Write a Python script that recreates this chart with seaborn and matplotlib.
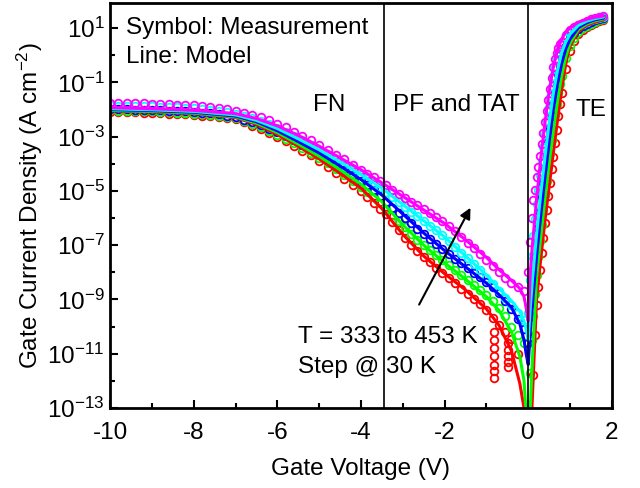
import numpy as np
import pandas as pd
import matplotlib
matplotlib.use("Agg")
import matplotlib.pyplot as plt
import matplotlib.ticker as mticker
import seaborn as sns

# temperatures and colours (333 K -> 453 K)
temps = ['333 K', '363 K', '393 K', '423 K', '453 K']
colors = ['#FF0000', '#00FF00', '#0000FF', '#00FFFF', '#FF00FF']

# measurement voltages: FN part, PF/TAT part, TE part
v_fn = [-10.0, -9.8, -9.6, -9.4, -9.2, -9.0, -8.8, -8.6, -8.4, -8.2, -8.0, -7.8, -7.6, -7.4, -7.2,
        -7.0, -6.8, -6.6, -6.4, -6.2, -6.0, -5.8, -5.6, -5.4, -5.2, -5.0, -4.8, -4.6, -4.4, -4.2, -4.0]
v_pf = [-3.85, -3.7, -3.55, -3.4, -3.25, -3.1, -2.95, -2.8, -2.65, -2.5, -2.35, -2.2, -2.05, -1.9,
        -1.75, -1.6, -1.45, -1.3, -1.15, -1.0, -0.85, -0.7, -0.55, -0.4, -0.25, -0.1]
v_te = [0.0, 0.04, 0.08, 0.12, 0.16, 0.2, 0.24, 0.28, 0.32, 0.36, 0.4, 0.44, 0.48, 0.52, 0.56, 0.6,
        0.64, 0.68, 0.72, 0.76, 0.8, 0.9, 1.0, 1.1, 1.2, 1.3, 1.4, 1.5, 1.6, 1.7, 1.8]

# measured log10(J), per temperature and region
fn_333 = [-2.08, -2.09, -2.1, -2.1, -2.11, -2.12, -2.13, -2.15, -2.17, -2.18, -2.2, -2.22, -2.24, -2.27, -2.31,
          -2.36, -2.47, -2.6, -2.73, -2.87, -3.0, -3.16, -3.33, -3.51, -3.69, -3.88, -4.1, -4.33, -4.56, -4.78, -5.0]
fn_363 = [-2.03, -2.04, -2.05, -2.05, -2.06, -2.07, -2.08, -2.1, -2.11, -2.13, -2.15, -2.17, -2.2, -2.23, -2.27,
          -2.32, -2.42, -2.54, -2.66, -2.79, -2.93, -3.08, -3.25, -3.42, -3.6, -3.78, -3.98, -4.19, -4.41, -4.63, -4.85]
fn_393 = [-1.98, -1.99, -1.99, -2.0, -2.0, -2.01, -2.02, -2.04, -2.05, -2.07, -2.09, -2.11, -2.14, -2.18, -2.22,
          -2.28, -2.37, -2.47, -2.58, -2.7, -2.83, -2.98, -3.14, -3.3, -3.47, -3.65, -3.83, -4.02, -4.22, -4.42, -4.62]
fn_423 = [-1.85, -1.86, -1.86, -1.87, -1.87, -1.88, -1.89, -1.9, -1.92, -1.93, -1.95, -1.97, -2.0, -2.04, -2.09,
          -2.15, -2.23, -2.32, -2.42, -2.54, -2.67, -2.81, -2.97, -3.13, -3.3, -3.48, -3.66, -3.84, -4.03, -4.22, -4.42]
fn_453 = [-1.75, -1.76, -1.76, -1.77, -1.77, -1.78, -1.79, -1.8, -1.82, -1.83, -1.85, -1.87, -1.9, -1.94, -1.98,
          -2.04, -2.11, -2.19, -2.29, -2.4, -2.52, -2.66, -2.82, -2.98, -3.14, -3.3, -3.48, -3.66, -3.84, -4.03, -4.22]

pf_333 = [-5.23, -5.45, -5.66, -5.85, -6.15, -6.45, -6.74, -7.0, -7.23, -7.42, -7.62, -7.85, -8.04, -8.22,
          -8.41, -8.6, -8.79, -8.97, -9.17, -9.4, -9.7, -9.95, -10.2, -10.45, -11.0, np.nan]
pf_363 = [-5.04, -5.24, -5.45, -5.65, -5.88, -6.1, -6.34, -6.6, -6.81, -7.0, -7.18, -7.35, -7.54, -7.72,
          -7.91, -8.1, -8.29, -8.47, -8.65, -8.85, -9.04, -9.3, -9.62, -10.0, -10.3, -10.6]
pf_393 = [-4.8, -4.98, -5.17, -5.4, -5.62, -5.83, -6.01, -6.2, -6.39, -6.58, -6.76, -6.95, -7.15, -7.33,
          -7.5, -7.67, -7.84, -8.01, -8.18, -8.35, -8.54, -8.77, -9.04, -9.35, -9.72, -10.1]
pf_423 = [-4.55, -4.71, -4.87, -5.03, -5.22, -5.4, -5.58, -5.77, -5.94, -6.11, -6.28, -6.45, -6.64, -6.84,
          -7.05, -7.28, -7.48, -7.7, -7.93, -8.2, -8.43, -8.68, -8.94, -9.2, -9.5, -9.75]
pf_453 = [-4.36, -4.5, -4.65, -4.8, -4.95, -5.1, -5.25, -5.4, -5.53, -5.66, -5.8, -5.95, -6.1, -6.28,
          -6.49, -6.7, -6.91, -7.12, -7.32, -7.55, -7.78, -8.0, -8.21, -8.4, -8.55, -8.7]

te_333 = [np.nan, np.nan, np.nan, -11.8, -10.3, -9.2, -8.55, -7.9, -7.3, -6.75, -6.2, -5.7, -5.2, -4.7, -4.2, -3.75,
          -3.25, -2.75, -2.25, -1.8, -1.4, -0.5, 0.15, 0.52, 0.77, 0.93, 1.05, 1.13, 1.2, 1.25, 1.29]
te_363 = [np.nan, -11.7, -10.5, -9.6, -8.8, -8.1, -7.45, -6.85, -6.27, -5.7, -5.15, -4.63, -4.1, -3.6, -3.13, -2.65,
          -2.2, -1.8, -1.4, -1.06, -0.75, -0.1, 0.35, 0.65, 0.85, 0.99, 1.09, 1.17, 1.24, 1.29, 1.33]
te_393 = [-10.6, -9.6, -8.8, -8.1, -7.45, -6.9, -6.35, -5.78, -5.24, -4.72, -4.2, -3.68, -3.19, -2.71, -2.24, -1.8,
          -1.4, -1.03, -0.68, -0.38, -0.1, 0.35, 0.62, 0.83, 0.97, 1.08, 1.16, 1.23, 1.29, 1.33, 1.37]
te_423 = [-9.5, -8.3, -7.4, -6.65, -6.05, -5.5, -4.95, -4.4, -3.9, -3.38, -2.9, -2.42, -1.97, -1.52, -1.12, -0.75,
          -0.42, -0.15, 0.06, 0.24, 0.38, 0.63, 0.82, 0.97, 1.07, 1.16, 1.23, 1.29, 1.34, 1.38, 1.42]
te_453 = [-8.0, -6.9, -6.0, -5.35, -4.95, -4.5, -4.1, -3.7, -3.28, -2.87, -2.45, -2.05, -1.66, -1.25, -0.85, -0.45,
          -0.15, 0.08, 0.26, 0.4, 0.5, 0.75, 0.92, 1.03, 1.12, 1.2, 1.27, 1.32, 1.37, 1.41, 1.45]

# scattered low-current points of the 333 K measurement near -0.8 V and -0.5 V
spike_v = [-0.82, -0.82, -0.82, -0.82, -0.82, -0.82, -0.82, -0.48, -0.48, -0.48, -0.48, -0.48]
spike_333 = [-10.2, -10.5, -10.8, -11.1, -11.4, -11.65, -11.9, -10.6, -10.85, -11.1, -11.3, -11.5]

# model voltages
v_model = [-10, -9, -8, -7, -6.5, -6, -5.5, -5, -4.5, -4, -3.5, -3, -2.5, -2, -1.5, -1, -0.7, -0.4,
           -0.2, -0.1, -0.05, 0, 0.05, 0.1, 0.2, 0.3, 0.4, 0.5, 0.6, 0.7, 0.8, 0.9, 1.0, 1.2, 1.4, 1.6, 1.8]

# model log10(J)
model_333 = [-2.05, -2.09, -2.15, -2.3, -2.55, -2.92, -3.35, -3.82, -4.35, -4.9, -5.65, -6.6, -7.4, -8.05,
             -8.65, -9.35, -9.95, -10.9, -12.1, -13.0, -14.5, -16.0, -14.5, -12.6, -9.0, -7.5, -6.1, -4.85,
             -3.6, -2.4, -1.25, -0.3, 0.35, 0.88, 1.1, 1.22, 1.3]
model_363 = [-2.03, -2.07, -2.13, -2.27, -2.5, -2.85, -3.27, -3.72, -4.22, -4.75, -5.4, -6.25, -7.0, -7.65,
             -8.25, -8.9, -9.4, -10.2, -11.1, -12.0, -13.2, -15.0, -13.0, -11.2, -8.2, -6.7, -5.3, -4.0,
             -2.8, -1.7, -0.75, -0.05, 0.45, 0.95, 1.15, 1.27, 1.34]
model_393 = [-2.0, -2.04, -2.1, -2.24, -2.45, -2.78, -3.18, -3.6, -4.08, -4.58, -5.15, -5.85, -6.55, -7.2,
             -7.8, -8.4, -8.82, -9.3, -9.9, -10.5, -11.0, -11.4, -10.2, -9.2, -7.4, -5.9, -4.5, -3.2,
             -2.0, -1.05, -0.3, 0.25, 0.6, 1.02, 1.2, 1.31, 1.37]
model_423 = [-1.97, -2.01, -2.07, -2.2, -2.4, -2.7, -3.08, -3.48, -3.93, -4.4, -4.9, -5.5, -6.1, -6.7,
             -7.4, -8.1, -8.6, -9.05, -9.45, -9.8, -10.1, -10.5, -9.3, -8.3, -6.6, -5.1, -3.75, -2.5,
             -1.4, -0.55, 0.1, 0.5, 0.78, 1.1, 1.26, 1.35, 1.41]
model_453 = [-1.93, -1.97, -2.03, -2.15, -2.33, -2.6, -2.95, -3.35, -3.78, -4.22, -4.7, -5.2, -5.7, -6.2,
             -6.8, -7.45, -7.9, -8.3, -8.6, -8.9, -9.3, -9.8, -8.0, -7.0, -5.3, -3.8, -2.5, -1.35,
             -0.45, 0.2, 0.6, 0.87, 1.02, 1.22, 1.33, 1.4, 1.45]

meas_all = [(fn_333, pf_333, te_333), (fn_363, pf_363, te_363), (fn_393, pf_393, te_393),
            (fn_423, pf_423, te_423), (fn_453, pf_453, te_453)]
model_all = [model_333, model_363, model_393, model_423, model_453]

rows = []
for t, (fn, pf, te) in zip(temps, meas_all):
    rows.append(pd.DataFrame({'V': v_fn + v_pf + v_te, 'logJ': fn + pf + te, 'T': t}))
rows.append(pd.DataFrame({'V': spike_v, 'logJ': spike_333, 'T': temps[0]}))
meas_df = pd.concat(rows, ignore_index=True).dropna()
meas_df['J'] = 10.0 ** meas_df['logJ']

rows = []
for t, vals in zip(temps, model_all):
    rows.append(pd.DataFrame({'V': v_model, 'logJ': vals, 'T': t}))
model_df = pd.concat(rows, ignore_index=True)
model_df['J'] = 10.0 ** model_df['logJ']

sns.set_style("ticks")
plt.rcParams['font.family'] = ['Liberation Sans', 'DejaVu Sans']
plt.rcParams['mathtext.fontset'] = 'custom'
plt.rcParams['mathtext.rm'] = 'Liberation Sans'
plt.rcParams['mathtext.it'] = 'Liberation Sans'
plt.rcParams['axes.unicode_minus'] = False
plt.rcParams['text.color'] = 'black'
plt.rcParams['axes.labelcolor'] = 'black'
plt.rcParams['xtick.color'] = 'black'
plt.rcParams['ytick.color'] = 'black'

fig = plt.figure(figsize=(6.4, 4.88), dpi=100)
ax = fig.add_axes([0.172, 0.164, 0.784, 0.83])
ax.set_yscale('log')

palette = dict(zip(temps, colors))
sns.lineplot(data=meas_df, x='V', y='J', hue='T', palette=palette, estimator=None, sort=False,
             marker='o', linestyle='', markersize=5.5, markerfacecolor='none',
             markeredgecolor='auto', markeredgewidth=1.3, legend=False, ax=ax)
sns.lineplot(data=model_df, x='V', y='J', hue='T', palette=palette, estimator=None, sort=False,
             linewidth=2.2, legend=False, ax=ax)

ax.axvline(-3.45, color='k', lw=1.2, zorder=3)
ax.axvline(0.0, color='k', lw=1.2, zorder=3)

ax.set_xlim(-10, 2)
ax.set_ylim(1e-13, 85)

ax.xaxis.set_major_locator(mticker.MultipleLocator(2))
ax.xaxis.set_minor_locator(mticker.MultipleLocator(1))
ax.xaxis.set_major_formatter(mticker.FuncFormatter(lambda v, p: '%d' % round(v)))
ax.yaxis.set_major_locator(mticker.FixedLocator([10.0 ** e for e in range(-13, 2, 2)]))
ax.yaxis.set_minor_locator(mticker.FixedLocator([10.0 ** e for e in range(-12, 2, 2)]))
ax.yaxis.set_major_formatter(mticker.FuncFormatter(
    lambda v, p: '$10^{%d}$' % round(np.log10(v))))
ax.yaxis.set_minor_formatter(mticker.NullFormatter())

ax.tick_params(which='both', direction='in', top=False, right=False, width=1.5, labelsize=17.5)
ax.tick_params(which='major', length=6)
ax.tick_params(which='minor', length=3.5)
ax.tick_params(axis='x', pad=10)
ax.tick_params(axis='y', pad=4)
for s in ax.spines.values():
    s.set_linewidth(2.0)
    s.set_color('k')

ax.set_xlabel('Gate Voltage (V)', fontsize=17.5, labelpad=10)
ax.set_ylabel('Gate Current Density (A cm$^{-2}$)', fontsize=17.5)
ax.yaxis.set_label_coords(-0.13, 0.5)

fs = 17.5
ax.text(-9.62, 10 ** 0.80, 'Symbol: Measurement', fontsize=fs)
ax.text(-9.62, 10 ** -0.30, 'Line: Model', fontsize=fs)
ax.text(-5.15, 10 ** -2.06, 'FN', fontsize=fs)
ax.text(-3.23, 10 ** -2.06, 'PF and TAT', fontsize=fs)
ax.text(1.12, 10 ** -2.25, 'TE', fontsize=fs)
ax.text(-5.5, 10 ** -10.61, 'T = 333 to 453 K', fontsize=fs)
ax.text(-5.5, 10 ** -11.72, 'Step @ 30 K', fontsize=fs)

ax.annotate('', xy=(-1.35, 10 ** -5.53), xytext=(-2.64, 10 ** -9.28),
            arrowprops=dict(arrowstyle='-|>', color='k', lw=1.5, mutation_scale=16))

fig.savefig('out.png', dpi=100)
